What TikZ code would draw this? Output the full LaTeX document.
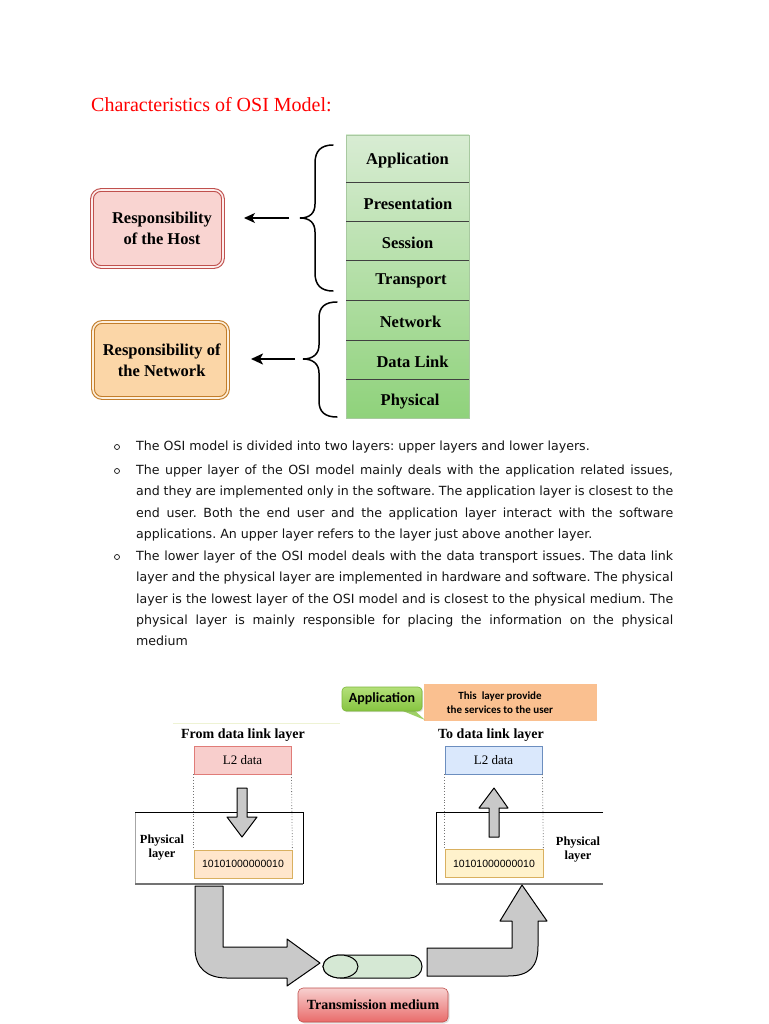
\documentclass[tikz,border=0pt]{standalone}
\usepackage{fontspec}
\setmainfont{Liberation Serif}
\newfontfamily\verd{DejaVu Sans}
\newfontfamily\calib{Carlito}
\newfontfamily\arialf{Liberation Sans}
\usetikzlibrary{shadows,arrows.meta}
\definecolor{stackTop}{HTML}{D8ECD3}
\definecolor{stackBot}{HTML}{8FD27B}
\definecolor{stackEdge}{HTML}{A8C9A0}
\definecolor{hostRed}{HTML}{C0504D}
\definecolor{hostFill}{HTML}{F9D4D1}
\definecolor{netOrange}{HTML}{C27D2A}
\definecolor{netFill}{HTML}{FBD6A7}
\definecolor{badgeTop}{HTML}{B4E07A}
\definecolor{badgeBot}{HTML}{86C440}
\definecolor{badgeEdge}{HTML}{7DB83A}
\definecolor{svcFill}{HTML}{FAC090}
\definecolor{pinkFill}{HTML}{F8CECC}
\definecolor{pinkEdge}{HTML}{E07C78}
\definecolor{blueFill}{HTML}{DAE8FC}
\definecolor{blueEdge}{HTML}{6C8EBF}
\definecolor{binAFill}{HTML}{FFE6CC}
\definecolor{binBFill}{HTML}{FFF2CC}
\definecolor{binEdge}{HTML}{D9B060}
\definecolor{arrowGray}{HTML}{C9C9C9}
\definecolor{cylFill}{HTML}{D5E8D4}
\definecolor{tmTop}{HTML}{F7D0CF}
\definecolor{tmBot}{HTML}{E96B6A}
\definecolor{tmEdge}{HTML}{C0504D}
\definecolor{bodyText}{HTML}{141414}
\frenchspacing
\begin{document}
\begin{tikzpicture}[x=1pt,y=-1pt,
  layername/.style={font=\bfseries\fontsize{16.5}{20}\selectfont, anchor=base, inner sep=0},
  resptext/.style={font=\bfseries\fontsize{16.5}{21}\selectfont, align=center, inner sep=0},
  respbox/.style={rounded corners=9pt, line width=1.1pt, double distance=1.6pt, inner sep=0},
  para/.style={font=\verd\fontsize{12.6}{21.3}\selectfont, text=bodyText, text width=537pt, align=justify, inner sep=0, anchor=base west},
  bulletmark/.style={circle, draw=bodyText, line width=0.7pt, minimum size=5pt, inner sep=0},
  smallhead/.style={font=\bfseries\fontsize{14}{16}\selectfont, anchor=base, inner sep=0},
  databox/.style={minimum width=97pt, minimum height=28pt, inner sep=0, line width=0.8pt, font=\fontsize{13}{15}\selectfont},
  binbox/.style={minimum width=98pt, minimum height=28pt, inner sep=0, line width=0.8pt, draw=binEdge, font=\arialf\fontsize{10.5}{12}\selectfont},
  physlabel/.style={font=\bfseries\fontsize{12.4}{14}\selectfont, align=center, inner sep=0},
  blockarrow/.style={fill=arrowGray, draw=black, line width=1pt, line join=round}]
\useasboundingbox[fill=white] (0,0) rectangle (768,1024);

% title
\node[anchor=base west, inner sep=0, text=red, font=\fontsize{20}{24}\selectfont] (title) at (91,112) {Characteristics of OSI Model:};

% layer stack
\shade[top color=stackTop, bottom color=stackBot] (346,135) rectangle (469,418);
\draw[stackEdge, line width=0.8pt] (346,135) rectangle (469,418);
\foreach \yy in {182,221,260,300,340,379}
  \draw[black!75, line width=0.8pt] (346,\yy) -- (469,\yy);
\node[layername] (lapp)  at (407.5,165) {Application};
\node[layername] (lpres) at (408,210) {Presentation};
\node[layername] (lsess) at (407.5,248) {Session};
\node[layername] (ltran) at (411,284.5) {Transport};
\node[layername] (lnet)  at (410.5,327) {Network};
\node[layername] (ldl)   at (412.5,367) {Data Link};
\node[layername] (lphys) at (410,405) {Physical};

% braces
\draw[black, line width=1.5pt, line cap=round]
  (333,145) .. controls (321,145) and (315,151) .. (315,163) -- (315,204)
  .. controls (315,213) and (310,218) .. (300,218)
  .. controls (310,218) and (315,223) .. (315,232) -- (315,273)
  .. controls (315,285) and (321,291) .. (333,291);
\draw[black, line width=1.5pt, line cap=round]
  (337,302) .. controls (325,302) and (319,307) .. (319,318) -- (319,345)
  .. controls (319,354) and (313,359) .. (303,359)
  .. controls (313,359) and (319,364) .. (319,373) -- (319,401)
  .. controls (319,412) and (325,417) .. (337,417);
\coordinate (hostbrace) at (289,218);
\coordinate (netbrace) at (295,359);

% responsibility boxes
\node[respbox, draw=hostRed, double=hostFill!40, fill=hostFill, minimum width=131pt, minimum height=77pt] (hostbox) at (157.5,228.5) {};
\node[resptext] (hosttext) at (162,228) {Responsibility\\of the Host};
\node[respbox, draw=netOrange, double=netFill!40, fill=netFill, minimum width=135pt, minimum height=76pt] (netbox) at (160.5,360) {};
\node[resptext] (nettext) at (161.7,360) {Responsibility of\\the Network};
\coordinate (hosttip) at (244,218);
\coordinate (nettip) at (251,359);
\draw[line width=1.1pt, -{Stealth[length=11pt,width=10pt,inset=3pt]}] (hostbrace) -- (hosttip);
\draw[line width=2.2pt, -{Stealth[length=12pt,width=11pt,inset=3pt]}] (netbrace) -- (nettip);

% bullets and paragraphs
\node[bulletmark] (b1) at (117,447) {};
\node[bulletmark] (b2) at (117,471) {};
\node[bulletmark] (b3) at (117,557) {};
\node[para] (p1) at (136,450.5) {\hyphenpenalty=10000\tolerance=10000 The OSI model is divided into two layers: upper layers and lower layers.};
\node[para] (p2) at (136,474.5) {\hyphenpenalty=10000\tolerance=10000 The upper layer of the OSI model mainly deals with the application related issues,\linebreak
and they are implemented only in the software. The application layer is closest to the\linebreak
end user. Both the end user and the application layer interact with the software\linebreak
applications. An upper layer refers to the layer just above another layer.};
\node[para] (p3) at (136,560.5) {\hyphenpenalty=10000\tolerance=10000 The lower layer of the OSI model deals with the data transport issues. The data link\linebreak
layer and the physical layer are implemented in hardware and software. The physical\linebreak
layer is the lowest layer of the OSI model and is closest to the physical medium. The\linebreak
physical layer is mainly responsible for placing the information on the physical\linebreak
medium};

% lower diagram: header
\draw[color={rgb,255:red,238;green,243;blue,212}, line width=1pt] (173,723) -- (340,723);
\node[fill=svcFill, minimum width=173pt, minimum height=37pt, inner sep=0] (svcbox) at (510.5,702.5) {};
\node[font=\calib\bfseries\fontsize{11}{14}\selectfont, align=center, inner sep=0, anchor=base] (svctext) at (500,713) {This\ \ layer provide\\the services to the user};
\fill[badgeBot!80] (398,709) -- (425,720) -- (413,709) -- cycle;
\node[rounded corners=4pt, top color=badgeTop, bottom color=badgeBot, draw=badgeEdge, line width=0.6pt,
  minimum width=80pt, minimum height=24pt, inner sep=0,
  drop shadow={shadow xshift=1.2pt, shadow yshift=-1.2pt, opacity=0.25},
  font=\calib\bfseries\fontsize{14}{16}\selectfont] (appbadge) at (382,699) {Application};

\node[smallhead] (fromdl) at (243,738) {From data link layer};
\node[smallhead] (todl) at (491,738) {To data link layer};

\node[databox, fill=pinkFill, draw=pinkEdge] (l2a) at (242.5,760) {L2 data};
\node[databox, fill=blueFill, draw=blueEdge] (l2b) at (493.5,760) {L2 data};

% physical layer frames
\draw[black!35, line width=0.8pt] (135,812) -- (135,884);
\draw[black!55, line width=1.2pt] (135,884) -- (303,884);
\draw[black, line width=0.9pt] (135,812) -- (303,812) -- (303,884);
\draw[black, line width=0.9pt] (603,812) -- (436,812) -- (436,884);
\draw[black!55, line width=1.2pt] (436,884) -- (603,884);

\node[binbox, fill=binAFill] (bina) at (243,864) {10101000000010};
\node[binbox, fill=binBFill] (binb) at (494,863.5) {10101000000010};

\draw[black!55, dotted, line width=0.8pt] (l2a.south west) -- (bina.north west);
\draw[black!55, dotted, line width=0.8pt] (l2a.south east) -- (bina.north east);
\draw[black!55, dotted, line width=0.8pt] (l2b.south west) -- (binb.north west);
\draw[black!55, dotted, line width=0.8pt] (l2b.south east) -- (binb.north east);

\node[physlabel] (physa) at (162,848) {Physical\\layer};
\node[physlabel] (physb) at (578,850) {Physical\\layer};

% down and up block arrows
\draw[blockarrow] (237,788) -- (247,788) -- (247,817) -- (257,817) -- (242,837) -- (227,817) -- (237,817) -- cycle;
\draw[blockarrow] (489,837) -- (499,837) -- (499,808) -- (508,808) -- (494,788) -- (479,808) -- (489,808) -- cycle;

% bent arrow into the medium
\draw[blockarrow] (195,886) -- (223,886) -- (223,947) -- (287,947) -- (287,939) -- (320,963) -- (287,986) -- (287,978)
  -- (227,978) .. controls (207,978) and (195,968) .. (195,948) -- cycle;
% bent arrow out of the medium
\draw[blockarrow] (427,948) -- (512,948) -- (512,921) -- (500,921) -- (522,885) -- (547,921) -- (538,921) -- (538,946)
  .. controls (538,966) and (530,976) .. (508,976) -- (427,976) -- cycle;

% cylinder
\draw[fill=cylFill, line width=1pt] (340.5,955) -- (410,955) arc[start angle=-90, end angle=90, x radius=12, y radius=11.5]
  -- (340.5,978) arc[start angle=90, end angle=270, x radius=17.5, y radius=11.5] -- cycle;
\draw[fill=cylFill, line width=1pt] (340.5,966.5) ellipse [x radius=17.5, y radius=11.5];
\coordinate (cylinder) at (371,966.5);

% transmission medium
\node[rounded corners=5pt, top color=tmTop, bottom color=tmBot, draw=tmEdge, line width=0.6pt,
  minimum width=150pt, minimum height=34pt, inner sep=0,
  drop shadow={shadow xshift=1.5pt, shadow yshift=-1.5pt, opacity=0.25},
  font=\bfseries\fontsize{14}{16}\selectfont] (tmedium) at (373,1005) {Transmission medium};
\end{tikzpicture}
\end{document}
